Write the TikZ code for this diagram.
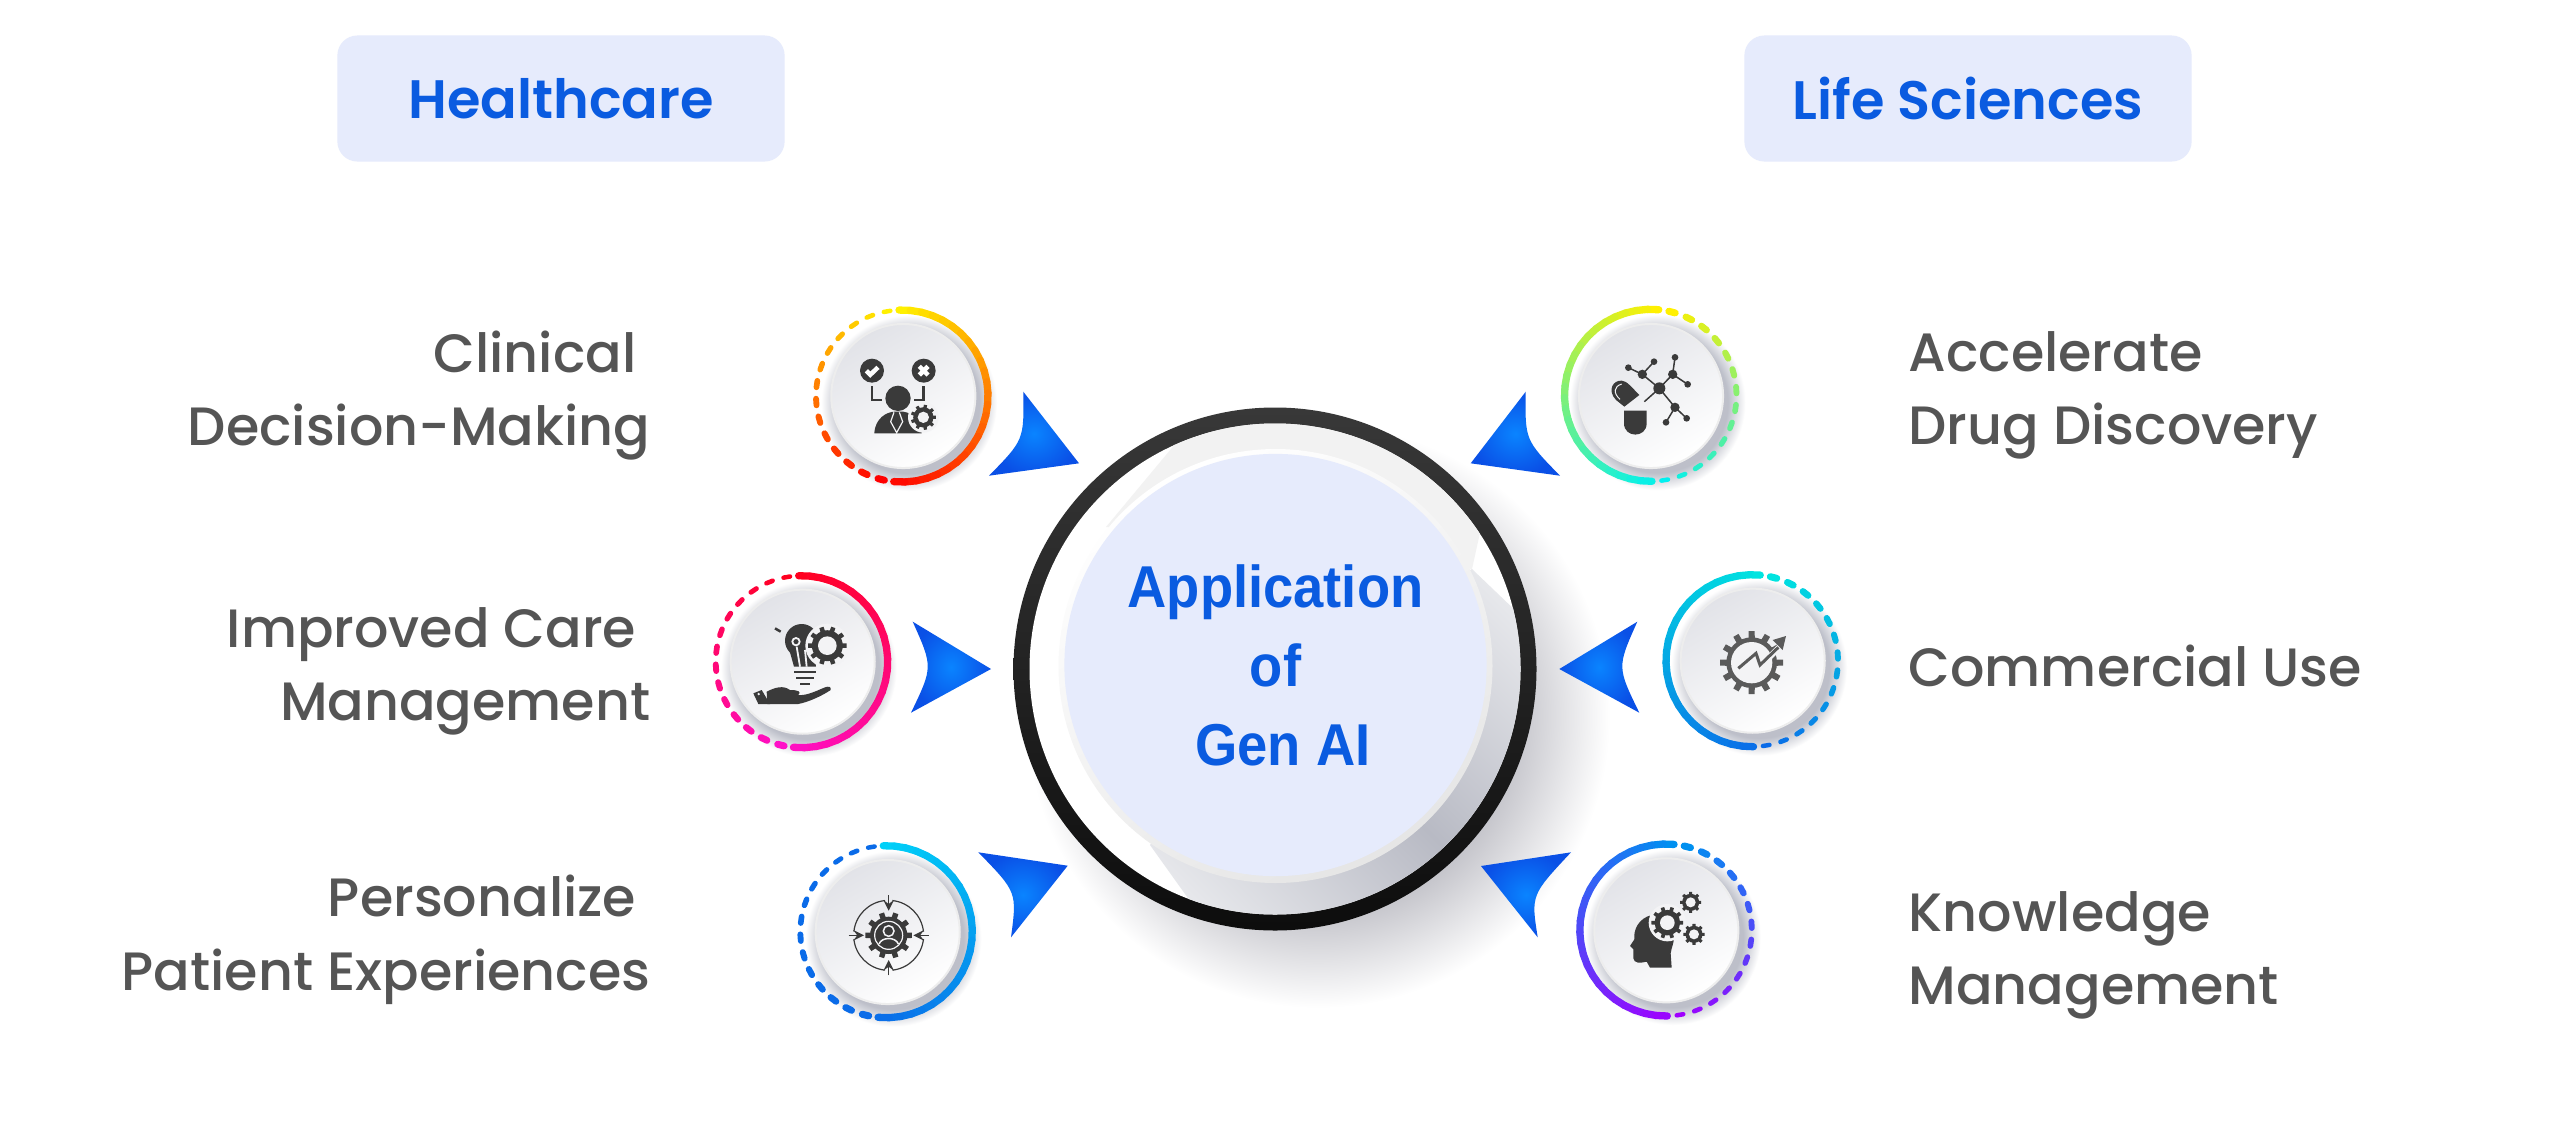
\documentclass[tikz,border=0pt]{standalone}
\usepackage{fontspec}
\setmainfont{Poppins}[UprightFont=* Medium,BoldFont=* SemiBold]
\newfontfamily\centerfont{Liberation Sans}[FakeStretch=0.92]
\usetikzlibrary{shapes.geometric, arrows}
\definecolor{headblue}{HTML}{E6EBFC}
\definecolor{inkblue}{HTML}{0A5BE0}
\definecolor{labelgray}{HTML}{555555}
\definecolor{glyph}{HTML}{3A3A3A}
\definecolor{glyphsoft}{HTML}{5A5A5A}
\definecolor{iconfill}{HTML}{F3F3F5}
\definecolor{iconshade}{HTML}{E2E3E8}
\definecolor{discshadow}{HTML}{B8BAC4}
\definecolor{discshadowend}{HTML}{ECEDF0}
\definecolor{ringyellow}{HTML}{FFF000}
\definecolor{ringred}{HTML}{FF0000}
\definecolor{ringrose}{HTML}{FF0020}
\definecolor{ringpink}{HTML}{FF10C8}
\definecolor{ringsky}{HTML}{00D0F8}
\definecolor{ringblue}{HTML}{0A6BE8}
\definecolor{ringcyan}{HTML}{00F0F0}
\definecolor{ringteal}{HTML}{00E4E0}
\definecolor{ringazure}{HTML}{0090F0}
\definecolor{ringviolet}{HTML}{A000FF}
\definecolor{pointermid}{HTML}{0A84FF}
\definecolor{pointerrim}{HTML}{0A50E6}
\pgfdeclareradialshading{iconshadow}{\pgfpointorigin}{rgb(0bp)=(0.74,0.75,0.79); rgb(20bp)=(0.74,0.75,0.79); rgb(25bp)=(1,1,1); rgb(50bp)=(1,1,1)}
\pgfdeclareradialshading{mainshadow}{\pgfpointorigin}{rgb(0bp)=(0.6,0.6,0.63); rgb(15bp)=(0.72,0.72,0.75); rgb(25bp)=(1,1,1); rgb(50bp)=(1,1,1)}

% x y side topcolor bottomcolor dashtopcolor
\newcommand{\iconring}[6]{
	\shade[shading=iconshadow] ({#1+7},{#2+7}) circle (88);
	\pgfmathsetmacro{\ringstart}{#3>0 ? -2 : -5.5}
	\pgfmathsetmacro{\ringend}{#3>0 ? 185.5 : 181}
	\foreach \k in {0,4,...,96}{
		\pgfmathsetmacro{\ta}{\ringstart+(\ringend-\ringstart)*(\k/100)}
		\pgfmathsetmacro{\tb}{\ringstart+(\ringend-\ringstart)*((\k+4)/100)}
		\draw[line width=0.073cm,line cap=round,color=#5!\k!#4]
		({#1+#3*86*sin(\ta)},{#2-86*cos(\ta)}) -- ({#1+#3*86*sin(\tb)},{#2-86*cos(\tb)});
	}
	\foreach \k in {0,...,13}{
		\pgfmathsetmacro{\ta}{\ringend+8.5+12*\k-2.2}
		\pgfmathsetmacro{\tb}{\ringend+8.5+12*\k+2.2}
		\pgfmathsetmacro{\dashwidth}{#3>0 ? 0.07-0.025*\k/13 : 0.045+0.025*\k/13}
		\pgfmathsetmacro{\mixp}{100-100*\k/13}
		\draw[line width=\dashwidth cm,line cap=round,color=#5!\mixp!#6]
		({#1+#3*86*sin(\ta)},{#2-86*cos(\ta)}) -- ({#1+#3*86*sin(\tb)},{#2-86*cos(\tb)});
	}
}
% x y radius hole teeth color
\newcommand{\gearshape}[6]{
	\pgfmathsetmacro{\toothtip}{65/#5}
	\pgfmathsetmacro{\toothbase}{95/#5}
	\pgfmathsetmacro{\toothstep}{360/#5}
	\foreach \k in {1,...,#5}{
		\fill[#6] (#1,#2) +({\k*\toothstep-\toothbase}:{0.72*#3}) -- +({\k*\toothstep-\toothtip}:#3) -- +({\k*\toothstep+\toothtip}:#3) -- +({\k*\toothstep+\toothbase}:{0.72*#3}) -- cycle;
	}
	\fill[#6] (#1,#2) circle ({0.8*#3});
	\fill[iconfill] (#1,#2) circle (#4);
}
% start end tip control
\newcommand{\pointer}[4]{
	\shade[inner color=pointermid,outer color=pointerrim] (#1) .. controls (#4) .. (#2) -- (#3) -- cycle;
}

\begin{document}
\begin{tikzpicture}[x=0.01cm,y=-0.01cm,
	head box/.style={rectangle, rounded corners=0.2cm, minimum width=4.47cm, minimum height=1.26cm, text centered, fill=headblue, text=inkblue, font=\fontsize{15.4}{18}\selectfont\bfseries},
	side text/.style={text=labelgray, inner sep=0pt, font=\fontsize{15.35}{20.9}\selectfont},
	icon disc/.style={circle, minimum size=1.44cm, inner sep=0pt, top color=iconshade, bottom color=white, shading angle=30, draw=black!7, line width=0.02cm},
	center text/.style={circle, minimum size=4.22cm, inner sep=0pt, align=center, fill=headblue, text=inkblue, font=\centerfont\bfseries\fontsize{16.8}{22.5}\selectfont}]
	
	\useasboundingbox (0,0) rectangle (2560,1136);
	\fill[white] (0,0) rectangle (2560,1136);
	
	\node[head box] (healthcare) at (561,98.5) {Healthcare};
	\node[head box] (lifesciences) at (1968,98.5) {Life Sciences};
	
	\node[side text,anchor=east,align=right] (clinical) at (651,395.5) {Clinical~\mbox{}\\Decision-Making};
	\node[side text,anchor=east,align=right] (care) at (651,671.5) {Improved Care~\mbox{}\\Management};
	\node[side text,anchor=east,align=right] (patient) at (651,940) {Personalize~\mbox{}\\Patient Experiences};
	\node[side text,anchor=west,align=left] (drug) at (1908,395.5) {Accelerate\\Drug Discovery};
	\node[side text,anchor=west,align=left] (commercial) at (1908,666) {Commercial Use};
	\node[side text,anchor=west,align=left] (knowledge) at (1908,955.5) {Knowledge\\Management};
	
	% big disc
	\shade[shading=mainshadow] (1318,716) circle (292);
	\shade[top color=black!78,bottom color=black!95] (1275,669) circle (261.5);
	\fill[white] (1275,669) circle (245.5);
	\begin{scope}
		\clip (1275,669) circle (245.5);
		\fill[black!5] (1106,527) -- (1171,449) -- (1240,350) -- (1520,350) -- (1472,569) -- cycle;
		\shade[top color=discshadowend,bottom color=discshadowend,middle color=discshadow,shading angle=-45] (1472,569) -- (1614,705) -- (1650,1000) -- (1288,1038) -- (1150,845) -- (1275,666) -- cycle;
	\end{scope}
	\shade[top color=white,bottom color=black!10,shading angle=30] (1275.5,666) circle (217);
	\node[center text] (genai) at (1275.5,665) {Application\\of\\~Gen AI};
	
	\pointer{1023.3,391.7}{989,475.7}{1079,463.3}{1024,440}
	\pointer{912.7,621.7}{911,712.7}{991,669}{933,667}
	\pointer{978.3,852.3}{1011,937.3}{1067.7,865.7}{1017,892}
	\pointer{1525.7,391.7}{1560,475.7}{1470.7,463.3}{1525,440}
	\pointer{1637.3,621.7}{1639.3,712.7}{1559.3,669}{1617,667}
	\pointer{1571,852.3}{1537.7,937.3}{1481,866}{1531,895}
	
	\iconring{902}{396}{1}{ringyellow}{ringred}{ringyellow}
	\iconring{801.7}{661.7}{1}{ringrose}{ringpink}{ringrose}
	\iconring{886.3}{931.7}{1}{ringsky}{ringblue}{ringblue}
	\iconring{1650.5}{395.3}{-1}{ringyellow}{ringcyan}{ringyellow}
	\iconring{1752}{660.7}{-1}{ringteal}{ringblue}{ringteal}
	\iconring{1665.8}{930}{-1}{ringazure}{ringviolet}{ringazure}
	
	\node[icon disc] (decision) at (903.3,396) {};
	\node[icon disc] (bulb) at (802.7,661.7) {};
	\node[icon disc] (target) at (887.7,932) {};
	\node[icon disc] (molecule) at (1651,396) {};
	\node[icon disc] (growth) at (1752.7,660.7) {};
	\node[icon disc] (mind) at (1666.3,930.3) {};
	
	% glyphs, written in the 3x crop coordinates
	\begin{scope}[shift={(780,280)},scale=1/3]
		\fill[glyph] (276,272) circle (36);
		\fill[glyph] (431,272) circle (36);
		\draw[white,line width=0.045cm] (259,272) -- (271,284) -- (294,262);
		\draw[white,line width=0.045cm] (418,259) -- (444,285) (444,259) -- (418,285);
		\draw[glyph,line width=0.025cm] (276,318) -- (276,360) -- (305,360);
		\draw[glyph,line width=0.025cm] (431,318) -- (431,360) -- (402,360);
		\fill[glyph] (354,355) circle (38);
		\fill[glyph] (283,460) .. controls (285,415) and (320,395) .. (345,395) -- (370,395) .. controls (405,400) and (425,430) .. (425,460) -- cycle;
		\draw[iconfill,line width=0.012cm] (342,397) -- (332,425) -- (350,458) -- (368,425) -- (358,397);
		\fill[iconfill] (430,412) circle (46);
		\gearshape{430}{412}{38}{17}{9}{glyph}
	\end{scope}
	\begin{scope}[shift={(690,550)},scale=1/3]
		\fill[glyph] (335,272) circle (50);
		\fill[glyph] (298,300) -- (372,300) -- (378,350) -- (312,350) -- cycle;
		\draw[iconfill,line width=0.018cm] (318,275) circle (11);
		\draw[iconfill,line width=0.018cm] (320,290) -- (330,350) (345,300) -- (350,350);
		\draw[glyph,line width=0.025cm] (255,235) -- (272,245);
		\draw[glyph,line width=0.022cm] (312,367) -- (378,367) (318,384) -- (372,384) (330,402) -- (360,402);
		\fill[iconfill] (412,287) circle (66);
		\gearshape{412}{287}{58}{28}{10}{glyph}
		\fill[glyph] (232,462) -- (325,462) .. controls (360,455) and (400,435) .. (422,420) .. controls (425,410) and (415,408) .. (405,412) .. controls (385,420) and (350,438) .. (325,435) .. controls (335,425) and (325,420) .. (300,420) .. controls (280,405) and (255,412) .. (230,425) -- cycle;
		\fill[glyph] (190,430) -- (215,420) -- (240,462) -- (205,462) -- cycle;
		\fill[iconfill] (206,432) circle (4);
	\end{scope}
	\begin{scope}[shift={(780,820)},scale=1/3]
		\foreach \a in {0,90,180,270}
		\draw[glyph,line width=0.012cm] (326,346) ++({\a+6}:105) arc[start angle=\a+6,end angle=\a+84,radius=105];
		\draw[glyph,line width=0.012cm,->,>=stealth] (326,226) -- (326,272);
		\draw[glyph,line width=0.012cm,->,>=stealth] (326,466) -- (326,420);
		\draw[glyph,line width=0.012cm,->,>=stealth] (206,346) -- (252,346);
		\draw[glyph,line width=0.012cm,->,>=stealth] (446,346) -- (400,346);
		\gearshape{326}{346}{70}{0}{10}{glyph}
		\draw[iconfill,line width=0.012cm] (326,346) circle (42);
		\draw[iconfill,line width=0.015cm] (326,333) circle (16);
		\draw[iconfill,line width=0.015cm] (297,372) .. controls (305,350) and (347,350) .. (355,372);
	\end{scope}
	\begin{scope}[shift={(1450,280)},scale=1/3]
		\draw[glyph,line width=0.015cm] (535,263) -- (577,283) -- (612,245) (577,283) -- (628,325) -- (668,283) -- (675,232) (668,283) -- (713,313) (628,325) -- (675,382) -- (648,427) (675,382) -- (710,415) (628,325) -- (583,365);
		\foreach \mx/\my/\mr in {628/325/18,577/283/14,668/283/14,675/382/14,535/263/10,612/245/10,675/232/10,713/313/10,648/427/10,710/415/10}
		\fill[glyph] (\mx,\my) circle (\mr);
		\fill[glyph] (522,392) -- (590,392) -- (590,430) .. controls (590,475) and (522,475) .. (522,430) -- cycle;
		\fill[glyph] (568,345) -- (523,380) -- (498,360) .. controls (470,330) and (490,300) .. (515,302) .. controls (530,302) and (545,322) .. (568,345) -- cycle;
		\draw[iconfill,line width=0.01cm] (510,358) .. controls (490,340) and (490,320) .. (515,312);
	\end{scope}
	\begin{scope}[shift={(1550,550)},scale=1/3]
		\gearshape{605}{338}{95}{62}{12}{glyphsoft}
		\draw[iconfill,line width=0.06cm] (640,340) -- (700,280);
		\draw[glyphsoft,line width=0.03cm] (565,355) -- (618,310) -- (630,345) -- (685,292);
		\fill[glyphsoft] (708,258) -- (668,270) -- (698,300) -- cycle;
	\end{scope}
	\begin{scope}[shift={(1470,820)},scale=1/3]
		\fill[glyph] (605,443) -- (602,400) .. controls (605,380) and (612,370) .. (612,350) -- (545,285) .. controls (505,295) and (490,330) .. (493,358) -- (480,378) -- (490,388) -- (490,415) .. controls (492,430) and (510,430) .. (530,425) -- (540,443) -- cycle;
		\fill[iconfill] (592,308) circle (56);
		\gearshape{592}{308}{48}{22}{10}{glyph}
		\gearshape{662}{247}{32}{15}{8}{glyph}
		\gearshape{672}{343}{32}{15}{8}{glyph}
	\end{scope}
\end{tikzpicture}
\end{document}
